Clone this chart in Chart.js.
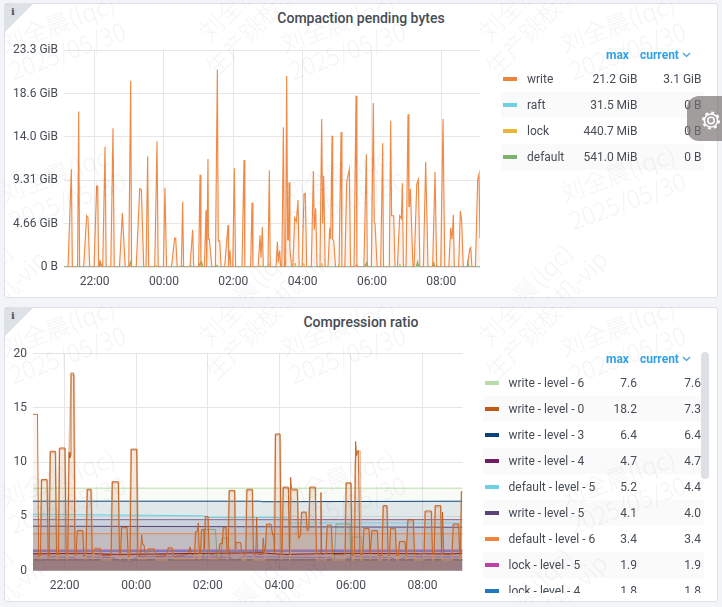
<!DOCTYPE html>
<html>
<head>
<meta charset="utf-8">
<script src="https://cdn.jsdelivr.net/npm/chart.js@4"></script>
<style>
  html, body { margin: 0; padding: 0; width: 722px; height: 607px; overflow: hidden; background: #f3f4f7; font-family: Roboto, sans-serif; color: #464c54; }
  .panel { position: absolute; left: 4px; width: 714px; background: #fff; border: 1px solid #dfe2e7; border-radius: 3px; box-sizing: border-box; }
  .corner { position: absolute; left: 5px; width: 28px; height: 28px; background: #dde1e8; clip-path: polygon(0 0, 100% 0, 0 100%); }
  .info { position: absolute; left: 11px; font: bold 10px "DejaVu Serif", serif; color: #52545c; }
  .title { position: absolute; left: 4px; width: 714px; text-align: center; font-size: 14px; font-weight: 500; color: #464c54; line-height: 18px; }
  canvas { position: absolute; left: 0; }
  .legend { position: absolute; overflow: hidden; font-size: 12px; }
  .row { position: absolute; height: 26px; line-height: 26px; white-space: nowrap; }
  .row.band { background: #fafafa; }
  .swatch { position: absolute; top: 11px; width: 14px; height: 4px; }
  .cell { position: absolute; top: 0; }
  .head { position: absolute; font-size: 12px; font-weight: 700; color: #33a2e5; line-height: 14px; }
  .scroll { position: absolute; left: 701px; top: 352px; width: 8px; height: 127px; background: #dde0e4; border-radius: 4px; }
  .gear { position: absolute; left: 687px; top: 96px; width: 35px; height: 45px; background: rgba(120,112,112,0.68); border-radius: 12px 0 0 12px; }
  .markbox { position: absolute; left: 4px; width: 714px; height: 295px; overflow: hidden; pointer-events: none; }
  .mark { position: absolute; white-space: pre; text-align: center; font-size: 24px; line-height: 29px; color: rgba(60,60,70,0.055); font-family: "Noto Sans CJK SC", Roboto, sans-serif; font-weight: 300; }
</style>
</head>
<body>
<div class="panel" style="top:3px;height:295px"></div>
<div class="panel" style="top:307px;height:295px"></div>
<div class="corner" style="top:4px"></div>
<div class="corner" style="top:308px"></div>
<div class="info" style="top:6px">i</div>
<div class="info" style="top:310px">i</div>
<div class="title" style="top:9px">Compaction pending bytes</div>
<div class="title" style="top:313px">Compression ratio</div>
<canvas id="pendingChart" width="722" height="300" style="top:0"></canvas>
<canvas id="ratioChart" width="722" height="307" style="top:300px"></canvas>
<div id="legends"></div>
<div class="scroll"></div>
<div class="gear">
  <svg width="35" height="45" viewBox="0 0 35 45"><circle cx="24" cy="24.5" r="3.2" fill="none" stroke="#fff" stroke-width="1.5"/><circle cx="24" cy="24.5" r="6.6" fill="none" stroke="#fff" stroke-width="1.5"/><circle cx="24" cy="24.5" r="8" fill="none" stroke="#fff" stroke-width="2" stroke-dasharray="3 3.28"/></svg>
</div>
<div class="markbox" id="marksTop" style="top:3px"></div>
<div class="markbox" id="marksBottom" style="top:307px"></div>

<script>
// x values are minutes after 21:07, the left edge of both panels
const timeTicks = [53, 173, 293, 413, 533, 653];
const timeLabels = ['22:00', '00:00', '02:00', '04:00', '06:00', '08:00'];

const pendingTicks = [0, 4.66, 9.31, 14.0, 18.6, 23.3];
const pendingTickLabels = ['0 B', '4.66 GiB', '9.31 GiB', '14.0 GiB', '18.6 GiB', '23.3 GiB'];
const ratioTicks = [0, 5, 10, 15, 20];

// GiB
const writeBytes = [[0,0],[7,0],[12.7,10.5],[14.5,0],[23.5,0],[25.4,16.7],[27,0],[34,0],[39.2,5.5],[41.5,5.3],[44.5,0],
  [52,0],[56.5,8.7],[58.3,8.7],[60,0],[62.3,0.6],[65,0],[67,0],[71,12.9],[73,0],[81,0],[84.8,14.9],[87,0],[96,0],[101,5.8],[106,0],
  [112,0],[115.4,20],[117,0],[125,0],[131,8.4],[133.9,8.3],[138,0],[142,0],[144.8,11.9],[146.5,0],[157,0],[161,13.5],[163,0],
  [172,0],[174.8,8.5],[177.5,0],[186,0],[191.5,3.1],[193.3,3.1],[196,0],[203,0],[205.4,7],[207,0],[218,0],[222.7,4],[224.5,0],
  [233,0],[235.4,9.9],[237,0],[243,0],[245.8,6.1],[247,0],[249.2,11.6],[250,3],[251.6,3],[256,0],[262,0],[265.4,21.2],[267,2.8],[269.4,2.8],[272,0],
  [278,0],[283.9,4.5],[285,0],[287.3,1.8],[289,0],[292,0],[294.8,10.6],[297,0],[308,0],[311.6,11.5],[313,0],[323,0],[325.4,6.9],[327,0],
  [336,0],[339.3,3.4],[341,1],[343.3,4.3],[345,0],[353,0],[355.4,10.4],[357,0],[367,0],[369.3,2.7],[371,0.5],[373.3,1.8],[375,0],
  [377,0],[379.7,15],[381.5,0],[383.5,0],[385.4,20.5],[387.1,2.9],[388.5,2.9],[389.5,9.1],[391,2],[394,0],
  [396,0],[399.3,5.3],[402.2,4.9],[405,7.2],[407,0],[412,0],[415.4,7.8],[417.7,7.9],[420,0],[428,0],[431.6,10.3],[433.3,4],[435.6,6.3],[438,0],
  [443,0],[446,15.9],[447.7,4.7],[449.5,9.8],[452,0],[457,0],[459.9,4.2],[461.6,3],[463.9,14.1],[465,3],[466.8,2.8],[470,0],
  [476,0],[479.5,14.5],[481,0],[486,0],[489.3,9.1],[493.9,10.5],[496,0],[502,0],[505.4,18.4],[507,0],[519,0],[523.3,12.1],[525,0],
  [532,0],[535.4,17.6],[537,4.8],[538.3,4.7],[542,0],[548,0],[551.6,13.3],[553,0],[563,0],[565.4,15.7],[567,5.5],[570.6,5.5],[573,0],
  [577,0],[581,5.5],[583.9,5.2],[585.6,9],[587.5,0],[592,0],[595.4,16.4],[597,6.5],[597.8,6.5],[599.5,8.4],[604,0],
  [606,0],[610.5,8.9],[613.3,9.4],[616,0],[622,0],[626,11.3],[630,0],[638,0],[642.2,10.2],[645,0],[652,0],[656,15.9],[659,0],
  [666,0],[669.3,4.2],[671.6,3],[673.9,5.6],[675.5,0],[683,0],[686,6],[688.3,5],[691,0],[698,0],[702.2,1.9],[704,2.1],[706,0],
  [712,0],[716,9.4],[718.3,10],[720,3.1]];
const raftBytes = [[0,0.01],[720,0]];
const lockBytes = [[0,0],[114,0],[115.5,0.3],[117,0],[158,0],[160,0.2],[162,0],[204,0],[205.5,0.2],[207,0],[219,0],[220,0.2],[222,0],
  [264,0],[265.5,0.2],[267,0],[338,0],[339.5,0.2],[341,0],[353,0],[355,0.25],[357,0],[398,0],[400,0.43],[402,0],[413,0],[415,0.4],[417,0],
  [444,0],[446,0.4],[448,0],[474,0],[475,0.25],[477,0],[504,0],[505.5,0.25],[507,0],[580,0],[581,0.35],[583,0],[645,0],[646,0.2],[648,0],[720,0]];
const defaultBytes = [[0,0],[60,0],[63,0.5],[65,0],[113,0],[115,0.45],[117,0],[233,0],[236,0.4],[238,0.53],[240,0],[262,0],[264,0.15],[266,0],
  [520,0],[522,0.2],[524,0.45],[526,0],[610,0],[612,0.5],[614,0],[638,0],[640,0.4],[642,0],[698,0],[699,0.4],[701,0],[720,0]];

// ratio values, stepped pulses
const writeLevel0 = [[0,14.4],[7.5,14.4],[9.5,1.3],[12.5,1.4],[14.5,8.4],[23.5,8.4],[25.5,1.3],[27,1.5],[29,11],[37.4,11],[39.4,1.5],[42.7,1.5],[44.7,11.3],[53.6,11.3],[55.6,1.5],[58.4,1.5],[60.4,10.9],[62,10.4],[63.1,10.6],[63.7,18.2],[68.2,18.2],[70.2,1.4],
  [72.3,1.5],[74.3,3.7],[83.3,3.7],[85.3,1.3],[89.1,1.6],[91.1,7.5],[97.2,7.5],[99.2,1.6],[102.8,1.9],[104,2],[112.9,2],[115,1.4],[131,1.4],[133,8.2],[143,8.2],[145,1.4],[146.6,1.4],[148.6,4],[157.6,4],[159.6,1.3],
  [162.8,1.4],[164.8,11.2],[173.8,11.2],[175.8,1.4],[180,1.4],[182.1,3.3],[184,2.4],[186,2.4],[189,1.4],[191,1.4],[193.3,2],[203.4,2],[206,1.3],[224,1.4],[226.8,2.1],[233,2.1],[236,1.3],[260,1.5],[263.2,2.2],[265.5,1.5],
  [270.7,1.5],[272.7,3.6],[275.4,3.6],[277.1,4.4],[279,1.5],[280.7,1.6],[282.7,3.8],[286.6,3.8],[287.5,2],[288.9,5],[293.3,5],[295.5,1.5],[311.4,1.6],[313.4,2.5],[317.4,2.5],[319,4],[323.5,4],[325.5,1.5],
  [327.1,1.5],[329.1,7.4],[338,7.4],[339,2],[340.3,2.6],[348.1,2.6],[350,1.6],[356.7,1.5],[358.7,7.5],[367.6,7.5],[369.6,1.5],[373.5,1.5],[374.9,4.9],[376.5,1.5],[384.5,1.5],[386,3],[388,1.7],[389.7,2],[391.7,4.3],[398.9,4.3],[401.7,3.3],[403.5,3.4],[405,1.5],
  [406.7,12.6],[414,12.6],[416,1.5],[417.6,1.5],[419.6,7.7],[428,7.7],[430,1.5],[431.9,8.6],[433.6,7.5],[443,7.5],[445,3],[448.3,3.3],[450.3,5.4],[457.6,5.4],[459.5,3.7],[462.3,3.8],[464.3,7.7],[473.2,7.7],[475.2,1.6],
  [481.5,1.6],[482.7,7.2],[484,1.5],[491.3,1.6],[493.3,4.2],[500,4.2],[502,1.5],[523.2,1.5],[525.2,8.1],[533,8.1],[535,1.4],[539,1.5],[540.8,11.9],[542.5,10.6],[545.3,11.1],[548.1,1.5],
  [552.8,1.5],[554.8,3.9],[563.2,3.9],[565,1.5],[566.2,1.5],[568.2,3.7],[577.2,3.7],[579,1.4],[585.2,1.4],[587.2,6],[593.3,6],[595.3,1.4],[597.5,1.4],[599.5,3.9],[607.3,3.9],[609.3,1.4],
  [612.6,1.4],[614.6,2.7],[623.5,2.7],[625.5,1.4],[626.6,1.4],[628.6,4.7],[637.5,4.7],[639.5,1.5],[655.6,1.6],[657.6,5.5],[667.7,5.5],[669.7,1.5],[672.4,1.5],[674.4,6],[683.3,6],[685,1.5],[686.6,5.4],[688.6,1.5],
  [702.5,1.5],[704.5,4.3],[713.4,4.3],[715.4,1.4],[716.5,1.5],[718.4,7.3],[720,7.3]];
const writeLevel1 = [[0,1.2],[12,1.1],[14,8.3],[24,8.3],[26,1.1],[26.5,1.1],[28.5,10.9],[38,10.9],[40,1.1],[42,1.1],[44,11.2],[54,11.2],[56,1.1],[58,1.1],[60,10],[64,18],[69,18],[71,1.1],
  [71.5,1.1],[73.5,3.6],[84,3.6],[86,1.1],[88.5,1.1],[90.5,7.4],[98,7.4],[100,1.1],[101.5,1.1],[103.5,2.1],[113,2.1],[115,1],[130.5,1],[132.5,8.1],[143.5,8.1],[145.5,1],[146,1],[148,3.9],[158,3.9],[160,1],
  [162,1],[164,11.1],[174.5,11.1],[176.5,1.1],[190,1.1],[192,2],[204,2],[206,1],[224,1],[226,2.1],[233.5,2.1],[236,1.1],[270,1.1],[272,3.5],[276,3.5],[278,1.1],[280,1.1],[282,3.7],[287,3.7],[289,4.9],[294,4.9],[296,1.1],
  [310.5,1.1],[312.5,2.4],[318,2.4],[319,3.9],[324,3.9],[326,1],[326.5,1],[328.5,7.3],[338.5,7.3],[340,2.5],[348.5,2.5],[351,1],[356,1],[358,7.4],[368,7.4],[370,1],[389,1],[391,4.2],[399,4.2],[402,3.2],[404,3.3],
  [406,12.5],[414.5,12.5],[416.5,1],[417,1],[419,7.6],[428.5,7.6],[430.5,1],[431,1],[433,7.4],[443.5,7.4],[445.5,2.9],[449,3.2],[450,5.3],[458,5.3],[460,3.6],[462,3.7],[464,7.6],[473.5,7.6],[475.5,1],
  [490.8,1],[492.8,4.1],[500.5,4.1],[502.5,1],[522.5,1],[524.5,8],[533.5,8],[535.5,1],[538,1],[540,10],[543,11],[548.5,11],[550,1],[552.3,1],[554.3,3.8],[563.7,3.8],[565.5,1],[565.7,1],[567.7,3.6],[577.7,3.6],[579.5,1],
  [584.7,1],[586.7,5.9],[593.8,5.9],[595.8,1],[597,1],[599,3.8],[607.8,3.8],[609.8,1],[612,1],[614,2.6],[624,2.6],[626,1],[626.5,1],[628,4.6],[638,4.6],[640,1],[655,1],[657,5.4],[668.2,5.4],[670.2,1],[671.9,1],[673.9,5.9],[683.8,5.9],[685.8,1],
  [702,1],[704,4.2],[713.9,4.2],[715.9,1],[716,1],[718,7.2],[720,7.2]];
const writeLevel6 = [[0,7.6],[720,7.6]];
const writeLevel3 = [[0,6.4],[380,6.4],[385,6.35],[720,6.4]];
const writeLevel4 = [[0,4.7],[720,4.7]];
const defaultLevel5 = [[0,5.2],[200,5.1],[285,5.05],[295,4.9],[425,4.9],[432,4.4],[720,4.4]];
const writeLevel5 = [[0,4.1],[720,4.0]];
const defaultLevel6 = [[0,3.4],[720,3.4]];
const lockLevel5 = [[0,1.9],[720,1.9]];
const lockLevel4 = [[0,1.8],[720,1.8]];
const writeLevel2 = [[0,1.55],[80,1.6],[140,1.5],[300,1.6],[380,1.65],[420,1.5],[520,1.6],[700,1.55],[720,1.6]];
const lockLevel6 = [[0,1.25],[20,0.95],[30,1.3],[70,1.2],[80,0.85],[90,1.3],[135,1.2],[145,0.85],[165,0.85],[175,1.3],[330,1.25],[340,0.85],[350,1.3],[500,1.2],[510,0.9],[540,1.3],[600,1.2],[610,0.9],[625,1.3],[720,1.25]];
const defaultLevel4 = [[0,1],[285,1],[287,3.8],[306,3.8],[309,1],[315,1.2],[317,3],[327,3],[330,1],[505,1],[508,4.3],[531,4.3],[533,1.1],[535,3.1],[551,3.1],[553,1],[720,1]];
const raftLevel6 = [[0,1],[720,1]];
const raftLevel5 = [[0,1],[720,1]];
const lockLevel3 = [[0,1],[720,1]];
const defaultLevel3 = [[0,1],[720,1]];
const raftLevel4 = [[0,1],[720,1]];

// legend tables
const pendingNames = ['write', 'raft', 'lock', 'default'];
const pendingColors = ['#ef843c', '#6ed0e0', '#eab839', '#7eb26d'];
const pendingMax = ['21.2 GiB', '31.5 MiB', '440.7 MiB', '541.0 MiB'];
const pendingCurrent = ['3.1 GiB', '0 B', '0 B', '0 B'];

const ratioNames = ['write - level - 6', 'write - level - 0', 'write - level - 3', 'write - level - 4', 'default - level - 5', 'write - level - 5', 'default - level - 6', 'lock - level - 5', 'lock - level - 4'];
const ratioColors = ['#b7dbab', '#bf5b17', '#0a437c', '#6d1f62', '#6ed0e0', '#584477', '#ef843c', '#ba43a9', '#1f78c1'];
const ratioMax = ['7.6', '18.2', '6.4', '4.7', '5.2', '4.1', '3.4', '1.9', '1.8'];
const ratioCurrent = ['7.6', '7.3', '6.4', '4.7', '4.4', '4.0', '3.4', '1.9', '1.8'];

const markA = '刘全晨(lqc)\n2025/05/30';
const markB = '刘全晨(lqc)\n生产跳板机-vip';

function alpha(hex, a) {
  const n = parseInt(hex.slice(1), 16);
  return `rgba(${n >> 16},${(n >> 8) & 255},${n & 255},${a})`;
}

function line(label, data, color, width, fillAlpha, lineAlpha) {
  return {
    label, data,
    borderColor: alpha(color, lineAlpha === undefined ? 1 : lineAlpha),
    backgroundColor: alpha(color, fillAlpha),
    borderWidth: width,
    fill: 'origin',
    pointRadius: 0,
    tension: 0
  };
}

function makeChart(id, datasets, opts) {
  return new Chart(document.getElementById(id), {
    type: 'line',
    data: { datasets },
    options: {
      responsive: false,
      animation: false,
      layout: { padding: { top: opts.top, right: opts.right, left: 0, bottom: 0 } },
      plugins: { legend: { display: false }, tooltip: { enabled: false } },
      scales: {
        x: {
          type: 'linear', min: 0, max: 720,
          border: { display: false },
          grid: { color: '#e6e6e8', drawTicks: false },
          ticks: {
            autoSkip: false, maxRotation: 0, padding: 8, color: '#464c54', font: { family: 'Roboto', size: 12 },
            callback: v => timeLabels[timeTicks.indexOf(v)]
          },
          afterBuildTicks: s => { s.ticks = timeTicks.map(value => ({ value })); },
          afterFit: s => { s.height = opts.bottom; }
        },
        y: {
          min: 0, max: opts.max,
          border: { display: false },
          grid: { color: '#e6e6e8', drawTicks: false },
          ticks: {
            autoSkip: false, padding: 6, color: '#464c54', font: { family: 'Roboto', size: 12 },
            callback: opts.label
          },
          afterBuildTicks: s => { s.ticks = opts.ticks.map(value => ({ value })); },
          afterFit: s => { s.width = opts.left; }
        }
      }
    }
  });
}

makeChart('pendingChart', [
  line('write', writeBytes, '#ef843c', 1.15, 0.1, 0.95),
  line('raft', raftBytes, '#6ed0e0', 1.5, 0.1),
  line('lock', lockBytes, '#eab839', 1, 0.1),
  line('default', defaultBytes, '#7eb26d', 1.5, 0.1)
], {
  top: 50, right: 242, left: 64, bottom: 33, max: 23.3, ticks: pendingTicks,
  label: v => pendingTickLabels[pendingTicks.indexOf(v)]
});

makeChart('ratioChart', [
  line('write - level - 0', writeLevel0, '#bf5b17', 1, 0.06, 0.85),
  line('write - level - 1', writeLevel1, '#d99a6e', 1.6, 0.12, 0.6),
  line('write - level - 2', writeLevel2, '#890f02', 1, 0.1),
  line('lock - level - 6', lockLevel6, '#806eb7', 1, 0.1, 0.8),
  line('lock - level - 5', lockLevel5, '#ba43a9', 1, 0.1),
  line('lock - level - 4', lockLevel4, '#1f78c1', 1, 0.1),
  line('default - level - 4', defaultLevel4, '#508642', 1, 0.05, 0.5),
  line('default - level - 6', defaultLevel6, '#ef843c', 1, 0.1),
  line('write - level - 5', writeLevel5, '#584477', 1, 0.1),
  line('default - level - 5', defaultLevel5, '#6ed0e0', 1, 0.1),
  line('write - level - 4', writeLevel4, '#6d1f62', 1, 0.1, 0.7),
  line('write - level - 3', writeLevel3, '#0a437c', 1, 0.1),
  line('write - level - 6', writeLevel6, '#b7dbab', 1, 0.1),
  line('raft - level - 6', raftLevel6, '#705da0', 1, 0.12, 0.5),
  line('raft - level - 5', raftLevel5, '#508642', 1, 0.12, 0.6),
  line('lock - level - 3', lockLevel3, '#cca300', 1, 0.12, 0.4),
  line('default - level - 3', defaultLevel3, '#890f02', 1, 0.12, 0.3),
  line('raft - level - 4', raftLevel4, '#447ebc', 1, 0.12, 0.4)
], {
  top: 53.5, right: 259.5, left: 33, bottom: 36.3, max: 20, ticks: ratioTicks,
  label: v => String(v)
});

// legends are plain html rows, as in the original table
function addText(parent, text, style, cls) {
  const el = document.createElement('div');
  el.className = cls;
  el.textContent = text;
  el.style.cssText = style;
  parent.appendChild(el);
  return el;
}

function buildLegend(cfg) {
  const host = document.createElement('div');
  host.className = 'legend';
  host.style.cssText = `left:${cfg.left}px;top:${cfg.top}px;width:${cfg.width}px;height:${cfg.height}px`;
  cfg.names.forEach((name, i) => {
    const row = document.createElement('div');
    row.className = 'row' + (i % 2 ? ' band' : '');
    row.style.cssText = `left:0;top:${i * 26}px;width:${cfg.width}px`;
    const sw = document.createElement('div');
    sw.className = 'swatch';
    sw.style.cssText = `left:2px;background:${cfg.colors[i]}`;
    row.appendChild(sw);
    addText(row, name, `left:${cfg.labelX}px`, 'cell');
    addText(row, cfg.max[i], `right:${cfg.width - cfg.maxRight}px`, 'cell');
    addText(row, cfg.current[i], `right:${cfg.width - cfg.currentRight}px`, 'cell');
    host.appendChild(row);
  });
  document.getElementById('legends').appendChild(host);
}

buildLegend({ left: 501, top: 66, width: 203, height: 104, labelX: 26, maxRight: 136.5, currentRight: 200.5,
  names: pendingNames, colors: pendingColors, max: pendingMax, current: pendingCurrent });
buildLegend({ left: 483, top: 370, width: 221, height: 223, labelX: 25.5, maxRight: 154, currentRight: 218,
  names: ratioNames, colors: ratioColors, max: ratioMax, current: ratioCurrent });

[[48, 606], [352, 606]].forEach(([top, left]) => {
  const legends = document.getElementById('legends');
  addText(legends, 'max', `left:${left}px;top:${top}px`, 'head');
  addText(legends, 'current', `left:${left + 34}px;top:${top}px`, 'head');
  const ch = document.createElementNS('http://www.w3.org/2000/svg', 'svg');
  ch.setAttribute('width', '9');
  ch.setAttribute('height', '6');
  ch.style.cssText = `position:absolute;left:${left + 76}px;top:${top + 4}px`;
  ch.innerHTML = '<polyline points="1,1 4.5,4.5 8,1" fill="none" stroke="#33a2e5" stroke-width="1.2"/>';
  legends.appendChild(ch);
});

// watermark tiles, clipped by each panel
function addMark(boxId, text, x, y, deg) {
  addText(document.getElementById(boxId), text, `left:${x}px;top:${y}px;transform:translate(-50%,-50%) rotate(${deg}deg)`, 'mark');
}
['marksTop', 'marksBottom'].forEach(boxId => {
  [58, 338, 618].forEach(x => {
    [33, 183].forEach(y => addMark(boxId, markA, x, y, -20));
  });
  [-29, 251, 531].forEach(x => {
    [0, 297].forEach(y => addMark(boxId, markB, x, y, -45));
  });
});
</script>
</body>
</html>
